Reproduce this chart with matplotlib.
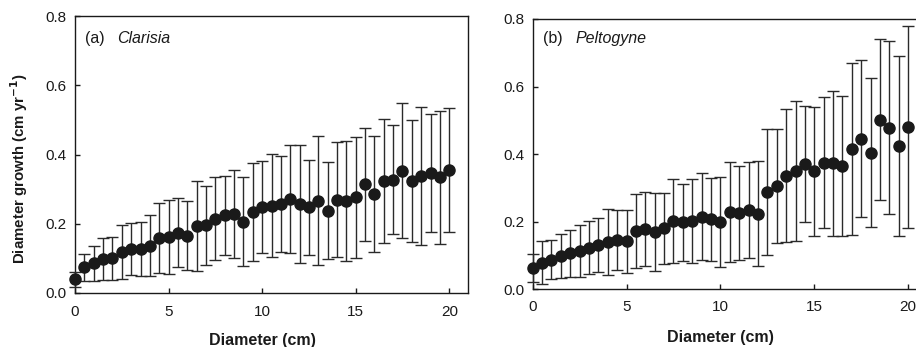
import numpy as np
import matplotlib
matplotlib.use("Agg")
import matplotlib.pyplot as plt

plt.rcParams['font.family'] = ['Liberation Sans', 'DejaVu Sans']

diameter = [i * 0.5 for i in range(41)]

clarisia_mean = [0.040, 0.075, 0.086, 0.099, 0.100, 0.118, 0.127, 0.128, 0.137, 0.160,
                 0.162, 0.174, 0.166, 0.194, 0.195, 0.215, 0.224, 0.229, 0.206, 0.234,
                 0.248, 0.252, 0.257, 0.272, 0.256, 0.247, 0.267, 0.238, 0.270, 0.266,
                 0.276, 0.314, 0.285, 0.324, 0.327, 0.353, 0.324, 0.338, 0.347, 0.334,
                 0.355]
clarisia_sd = [0.022, 0.039, 0.050, 0.061, 0.062, 0.079, 0.075, 0.078, 0.088, 0.101,
               0.108, 0.099, 0.100, 0.130, 0.114, 0.119, 0.115, 0.127, 0.129, 0.142,
               0.133, 0.149, 0.140, 0.156, 0.170, 0.137, 0.186, 0.141, 0.165, 0.173,
               0.175, 0.163, 0.168, 0.179, 0.158, 0.195, 0.177, 0.198, 0.170, 0.192,
               0.178]

peltogyne_mean = [0.063, 0.079, 0.088, 0.098, 0.106, 0.112, 0.123, 0.131, 0.139, 0.146,
                  0.142, 0.172, 0.178, 0.170, 0.181, 0.202, 0.198, 0.202, 0.215, 0.207,
                  0.198, 0.229, 0.226, 0.234, 0.224, 0.287, 0.306, 0.336, 0.350, 0.371,
                  0.349, 0.374, 0.373, 0.365, 0.415, 0.446, 0.404, 0.502, 0.478, 0.423,
                  0.480]
peltogyne_sd = [0.042, 0.063, 0.058, 0.065, 0.070, 0.077, 0.078, 0.079, 0.098, 0.090,
                0.094, 0.110, 0.110, 0.116, 0.105, 0.123, 0.115, 0.125, 0.128, 0.122,
                0.133, 0.148, 0.138, 0.142, 0.156, 0.186, 0.169, 0.197, 0.206, 0.172,
                0.191, 0.194, 0.215, 0.208, 0.254, 0.231, 0.221, 0.238, 0.256, 0.266,
                0.299]

xticks = [0, 5, 10, 15, 20]
yticks = [0.0, 0.2, 0.4, 0.6, 0.8]
ytick_labels = ['0.0', '0.2', '0.4', '0.6', '0.8']

fig = plt.figure(figsize=(9.16, 3.47), dpi=100)
ax_a = fig.add_axes([75/916, 54/347, 393/916, 277/347])
ax_b = fig.add_axes([532.7/916, 57.7/347, 394.2/916, 270.4/347])

panels = [
    (ax_a, clarisia_mean, clarisia_sd, '(a)', 'Clarisia', 12.5, -0.145, 0.025, 0.106, 0.92),
    (ax_b, peltogyne_mean, peltogyne_sd, '(b)', 'Peltogyne', 11.5, -0.150, 0.027, 0.109, 0.927),
]

for ax, mean, sd, tag, name, xpad, xl_y, tag_x, name_x, lab_y in panels:
    ax.errorbar(diameter, mean, yerr=sd, fmt='o', color='#1a1a1a',
                ecolor='#2a2a2a', elinewidth=1.0, capsize=4.5, capthick=1.0,
                markersize=8, zorder=3, clip_on=False)
    ax.set_xlim(0, 21)
    ax.set_ylim(0, 0.8)
    ax.set_xticks(xticks)
    ax.set_yticks(yticks)
    ax.set_yticklabels(ytick_labels)
    ax.tick_params(direction='in', length=3.5, width=1.0, labelsize=11,
                   colors='#1a1a1a')
    ax.tick_params(axis='x', pad=xpad - 3.5)
    ax.tick_params(axis='y', pad=6)
    for s in ax.spines.values():
        s.set_linewidth(1.0)
        s.set_color('#1a1a1a')
    ax.set_xlabel('Diameter (cm)', fontsize=11.5, fontweight='bold',
                  color='#1a1a1a')
    ax.xaxis.set_label_coords(10/21, xl_y)
    ax.text(tag_x, lab_y, tag, transform=ax.transAxes, fontsize=11.5,
            va='center', ha='left', color='#1a1a1a')
    ax.text(name_x, lab_y, name, transform=ax.transAxes, fontsize=11.5,
            va='center', ha='left', style='italic', color='#1a1a1a')

ax_a.set_ylabel('Diameter growth (cm yr$^{\\mathbf{-1}}$)', fontsize=10.8,
                fontweight='bold', color='#1a1a1a')
ax_a.yaxis.set_label_coords(-0.115, 0.448)

fig.savefig('out.png', dpi=100)
